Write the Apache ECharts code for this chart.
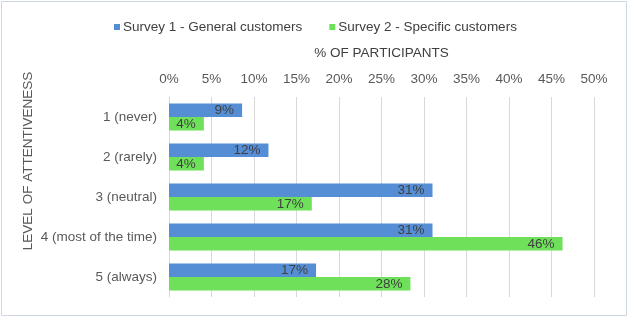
<!DOCTYPE html>
<html><head><meta charset="utf-8">
<script src="https://cdn.jsdelivr.net/npm/echarts@6/dist/echarts.min.js"></script>
<style>html,body{margin:0;padding:0;background:#fff}#c{width:629px;height:319px}</style>
</head><body><div id="c"></div>
<script>
const categories = ["1 (never)", "2 (rarely)", "3 (neutral)", "4 (most of the time)", "5 (always)"];
const survey1 = [8.6, 11.7, 31.0, 31.0, 17.3];
const survey2 = [4.1, 4.1, 16.8, 46.3, 28.4];
const seriesNames = ["Survey 1 - General customers", "Survey 2 - Specific customers"];
const xTicksMax = 50;

const chart = echarts.init(document.getElementById('c'), null, {renderer: 'canvas'});
const font = 'Liberation Sans, Arial, sans-serif';
const txt = '#595959';
const fs = 13.5;
const lbl = {show: true, position: 'insideRight', distance: 8, color: '#404040', fontSize: fs, fontFamily: font,
  formatter: p => Math.round(p.value) + '%'};
chart.setOption({
  animation: false,
  textStyle: {fontFamily: font},
  graphic: [
    {type: 'rect', shape: {x: 1.5, y: 1.5, width: 625, height: 314}, style: {fill: null, stroke: '#cfd8e0', lineWidth: 1}},
    {type: 'text', x: 28, y: 161, rotation: Math.PI / 2, style: {text: 'LEVEL OF ATTENTIVENESS', fill: txt, fontSize: fs, fontFamily: font, align: 'center', verticalAlign: 'middle'}}
  ],
  legend: {
    left: 109, top: 15, itemWidth: 6, itemHeight: 6, itemGap: 27,
    icon: 'rect',
    textStyle: {color: '#404040', fontSize: fs, fontFamily: font, padding: [0, 0, 0, -2]},
    data: seriesNames
  },
  grid: {left: 169, right: 35, top: 97, bottom: 22, containLabel: false},
  xAxis: {
    type: 'value', position: 'top', min: 0, max: xTicksMax, interval: 5,
    name: '% OF PARTICIPANTS', nameLocation: 'middle', nameGap: 37,
    nameTextStyle: {color: '#404040', fontSize: fs, fontFamily: font},
    axisLabel: {formatter: '{value}%', color: txt, fontSize: fs, fontFamily: font, margin: 11},
    axisLine: {show: false}, axisTick: {show: false},
    splitLine: {show: true, lineStyle: {color: '#d9d9d9', width: 1}}
  },
  yAxis: {
    type: 'category', inverse: true, data: categories,
    axisLine: {show: true, lineStyle: {color: '#d9d9d9'}},
    axisTick: {show: false},
    axisLabel: {color: txt, fontSize: fs, fontFamily: font, margin: 12}
  },
  series: [
    {name: seriesNames[0], type: 'bar', data: survey1, itemStyle: {color: '#558ed5'}, barGap: '0%', barCategoryGap: '32%', label: lbl},
    {name: seriesNames[1], type: 'bar', data: survey2, itemStyle: {color: '#6fe05a'}, barGap: '0%', barCategoryGap: '32%', label: lbl}
  ]
});
</script></body></html>
